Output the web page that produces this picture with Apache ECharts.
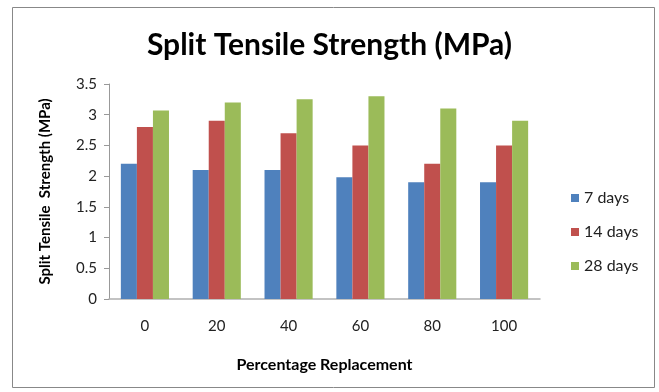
<!DOCTYPE html>
<html>
<head>
<meta charset="utf-8">
<script src="https://cdn.jsdelivr.net/npm/echarts@6/dist/echarts.min.js"></script>
<style>
  html, body { margin: 0; padding: 0; background: #fff; }
  #chart { width: 659px; height: 392px; }
</style>
</head>
<body>
<div id="chart"></div>
<script>
// Percentage replacement levels (x categories)
const categories = ['0', '20', '40', '60', '80', '100'];
// Split tensile strength (MPa) per curing age
const days7 = [2.2, 2.1, 2.1, 1.98, 1.9, 1.9];
const days14 = [2.8, 2.9, 2.7, 2.5, 2.2, 2.5];
const days28 = [3.07, 3.2, 3.25, 3.3, 3.1, 2.9];
const seriesNames = ['7 days', '14 days', '28 days'];

const FONT = 'Lato, "Open Sans", sans-serif';
const chart = echarts.init(document.getElementById('chart'));

chart.setOption({
  animation: false,
  backgroundColor: '#fff',
  color: ['#4F81BD', '#C0504D', '#9BBB59'],
  title: {
    text: 'Split Tensile Strength (MPa)',
    left: 'center',
    top: 25,
    textStyle: { fontFamily: FONT, fontSize: 30, fontWeight: 'bold', color: '#000' }
  },
  graphic: [{
    type: 'rect',
    shape: { x: 12.5, y: 7.5, width: 642, height: 380 },
    style: { fill: 'none', stroke: '#888', lineWidth: 1 },
    silent: true
  }],
  legend: {
    orient: 'vertical',
    left: 566,
    top: 185,
    itemWidth: 8,
    itemHeight: 8,
    itemGap: 18,
    icon: 'rect',
    textStyle: { fontFamily: FONT, fontSize: 16, color: '#222' },
    data: seriesNames
  },
  grid: { left: 109, right: 119, top: 84, bottom: 93 },
  xAxis: {
    type: 'category',
    data: categories,
    name: 'Percentage Replacement',
    nameLocation: 'middle',
    nameGap: 58,
    nameTextStyle: { fontFamily: FONT, fontSize: 16, fontWeight: 'bold', color: '#000' },
    axisLine: { lineStyle: { color: '#b0b0b0', width: 1.5 } },
    axisTick: { show: false },
    axisLabel: { fontFamily: FONT, fontSize: 15, color: '#222', margin: 20 }
  },
  yAxis: {
    type: 'value',
    min: 0,
    max: 3.5,
    interval: 0.5,
    name: 'Split Tensile  Strength (MPa)',
    nameLocation: 'middle',
    nameGap: 56,
    nameTextStyle: { fontFamily: FONT, fontSize: 15, fontWeight: 'bold', color: '#000' },
    axisLine: { show: true, lineStyle: { color: '#999' } },
    axisTick: { show: true, length: 5, lineStyle: { color: '#999' } },
    splitLine: { show: false },
    axisLabel: { fontFamily: FONT, fontSize: 15, color: '#222', margin: 12 }
  },
  series: [
    { name: seriesNames[0], type: 'bar', data: days7, barGap: '0%', barCategoryGap: '33%' },
    { name: seriesNames[1], type: 'bar', data: days14, barGap: '0%', barCategoryGap: '33%' },
    { name: seriesNames[2], type: 'bar', data: days28, barGap: '0%', barCategoryGap: '33%' }
  ]
});
</script>
</body>
</html>
